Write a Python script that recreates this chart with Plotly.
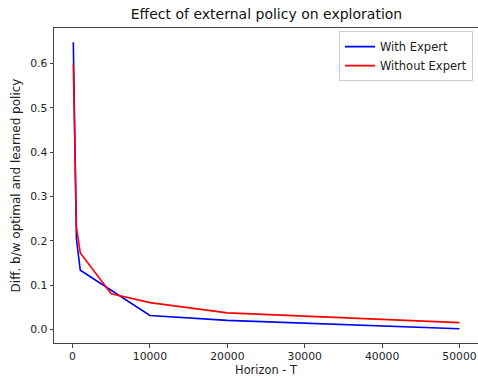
import plotly.graph_objects as go

horizons = [100, 500, 1000, 5000, 10000, 20000, 50000]
with_expert = [0.648, 0.205, 0.134, 0.089, 0.032, 0.021, 0.002]
without_expert = [0.597, 0.232, 0.173, 0.081, 0.061, 0.038, 0.016]

x_ticks = [0, 10000, 20000, 30000, 40000, 50000]
y_ticks = [0.0, 0.1, 0.2, 0.3, 0.4, 0.5, 0.6]

font = "DejaVu Sans"

fig = go.Figure()
fig.add_trace(go.Scatter(x=horizons, y=with_expert, mode="lines", name="With Expert",
                         line=dict(color="#0000ff", width=1.6)))
fig.add_trace(go.Scatter(x=horizons, y=without_expert, mode="lines", name="Without Expert",
                         line=dict(color="#ff0000", width=1.6)))

fig.update_layout(
    width=478, height=377,
    margin=dict(l=54, r=0, t=28, b=34, autoexpand=False),
    paper_bgcolor="white", plot_bgcolor="white",
    font=dict(family=font, size=10.4, color="#222"),
    title=dict(text="Effect of external policy on exploration", x=(54 + 479) / 2 / 478, xanchor="center",
               y=1 - 14 / 377, yanchor="middle", font=dict(size=14, color="#111")),
    legend=dict(x=(473 - 54) / 424, xanchor="right", y=0.99, yanchor="top",
                bgcolor="rgba(255,255,255,0.9)", bordercolor="#cccccc", borderwidth=1,
                font=dict(size=11.5, color="#222"), itemwidth=30, tracegroupgap=0),
    showlegend=True,
)
fig.update_xaxes(range=[-2395, 52390], tickvals=x_ticks, ticktext=[str(v) for v in x_ticks],
                 showgrid=False, zeroline=False, showline=True, linecolor="#444", linewidth=1,
                 mirror=True, ticks="outside", ticklen=3.5, tickcolor="#444", automargin=False,
                 tickfont=dict(size=10.8),
                 title=dict(text="Horizon - T", standoff=4, font=dict(size=11.4)))
fig.update_yaxes(range=[-0.030, 0.680], tickvals=y_ticks, ticktext=[f"{v:.1f}" for v in y_ticks],
                 showgrid=False, zeroline=False, showline=True, linecolor="#444", linewidth=1,
                 mirror=False, ticks="outside", ticklen=3.5, tickcolor="#444", automargin=False,
                 tickfont=dict(size=10.8),
                 title=dict(text="Diff. b/w optimal and learned policy", standoff=6, font=dict(size=12)))

fig.write_html("out.html", config={"displayModeBar": False},
               post_script="document.body.style.margin='0';document.body.style.padding='0';document.body.style.overflow='hidden';")
